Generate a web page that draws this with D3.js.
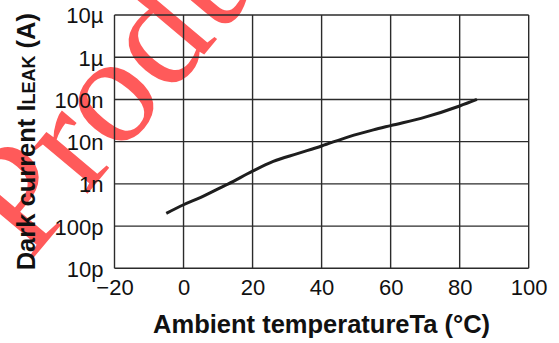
<!DOCTYPE html>
<html>
<head>
<meta charset="utf-8">
<script src="https://cdn.jsdelivr.net/npm/d3@7"></script>
<style>
  body { margin: 0; background: #fff; }
  svg { display: block; }
</style>
</head>
<body>
<div id="chart"></div>
<script>
// data
const temps = [-5, 0, 5, 10, 13, 20, 26, 33, 40, 48, 55, 60, 70, 80, 85];
const leak = [2.0e-10, 3.2e-10, 4.8e-10, 7.6e-10, 1.0e-9, 2.0e-9, 3.4e-9, 5.2e-9, 7.9e-9, 1.32e-8, 1.9e-8, 2.4e-8, 3.8e-8, 7.0e-8, 1.0e-7];
const xTicks = [-20, 0, 20, 40, 60, 80, 100];
const yTicks = [1e-11, 1e-10, 1e-9, 1e-8, 1e-7, 1e-6, 1e-5];
const yTickLabels = ['10p', '100p', '1n', '10n', '100n', '1µ', '10µ'];

const width = 559, height = 343;
const plotLeft = 114.5, plotRight = 528.7, plotTop = 15, plotBottom = 268.3;

const svg = d3.select('#chart')
  .append('svg')
  .attr('width', width)
  .attr('height', height)
  .style('font-family', '"Liberation Sans", Arial, sans-serif');

// watermark (under everything)
svg.append('text')
  .attr('transform', 'translate(30,262) rotate(-50)')
  .attr('font-family', '"Liberation Serif", "DejaVu Serif", serif')
  .attr('font-size', 155)
  .attr('fill', '#ff5a5a')
  .text('Product');

const x = d3.scaleLinear().domain([-20, 100]).range([plotLeft, plotRight]);
const y = d3.scaleLog().domain([1e-11, 1e-5]).range([plotBottom, plotTop]);

const gridColor = '#2b2b2b';

// grid
svg.append('g')
  .selectAll('line')
  .data(xTicks)
  .enter()
  .append('line')
  .attr('x1', d => x(d)).attr('x2', d => x(d))
  .attr('y1', plotTop).attr('y2', plotBottom)
  .attr('stroke', gridColor)
  .attr('stroke-width', 1.4);

svg.append('g')
  .selectAll('line')
  .data(yTicks)
  .enter()
  .append('line')
  .attr('x1', plotLeft).attr('x2', plotRight)
  .attr('y1', d => y(d)).attr('y2', d => y(d))
  .attr('stroke', gridColor)
  .attr('stroke-width', 1.4);

// x tick labels
const xAxis = svg.append('g')
  .attr('transform', `translate(0,${plotBottom})`)
  .call(d3.axisBottom(x).tickValues(xTicks).tickSize(0).tickPadding(0)
    .tickFormat(d => d < 0 ? '\u2212' + Math.abs(d) : String(d)));
xAxis.select('.domain').remove();
xAxis.selectAll('text')
  .attr('dy', null)
  .attr('y', 27)
  .attr('font-size', 22)
  .attr('font-family', '"Liberation Sans", Arial, sans-serif')
  .attr('fill', '#111');

// y tick labels
const yAxis = svg.append('g')
  .attr('transform', `translate(${plotLeft},0)`)
  .call(d3.axisLeft(y).tickValues(yTicks).tickSize(0).tickPadding(11)
    .tickFormat((d, i) => yTickLabels[i]));
yAxis.select('.domain').remove();
yAxis.selectAll('text')
  .attr('dy', '0.36em')
  .attr('font-size', 22)
  .attr('font-family', '"Liberation Sans", Arial, sans-serif')
  .attr('fill', '#111');

// curve
const line = d3.line()
  .x(d => x(d[0]))
  .y(d => y(d[1]))
  .curve(d3.curveMonotoneX);

svg.append('path')
  .datum(temps.map((t, i) => [t, leak[i]]))
  .attr('d', line)
  .attr('fill', 'none')
  .attr('stroke', '#1e1e1e')
  .attr('stroke-width', 3);

// axis titles
svg.append('text')
  .attr('x', (plotLeft + plotRight) / 2)
  .attr('y', 333)
  .attr('text-anchor', 'middle')
  .attr('font-size', 25.5)
  .attr('font-weight', 'bold')
  .attr('fill', '#111')
  .text('Ambient temperatureTa (°C)');

const yTitle = svg.append('text')
  .attr('transform', `translate(35,${(plotTop + plotBottom) / 2}) rotate(-90)`)
  .attr('text-anchor', 'middle')
  .attr('font-size', 25.5)
  .attr('font-weight', 'bold')
  .attr('fill', '#111');
yTitle.append('tspan').text('Dark current I');
yTitle.append('tspan').attr('font-size', 18).text('LEAK');
yTitle.append('tspan').text(' (A)');
</script>
</body>
</html>
